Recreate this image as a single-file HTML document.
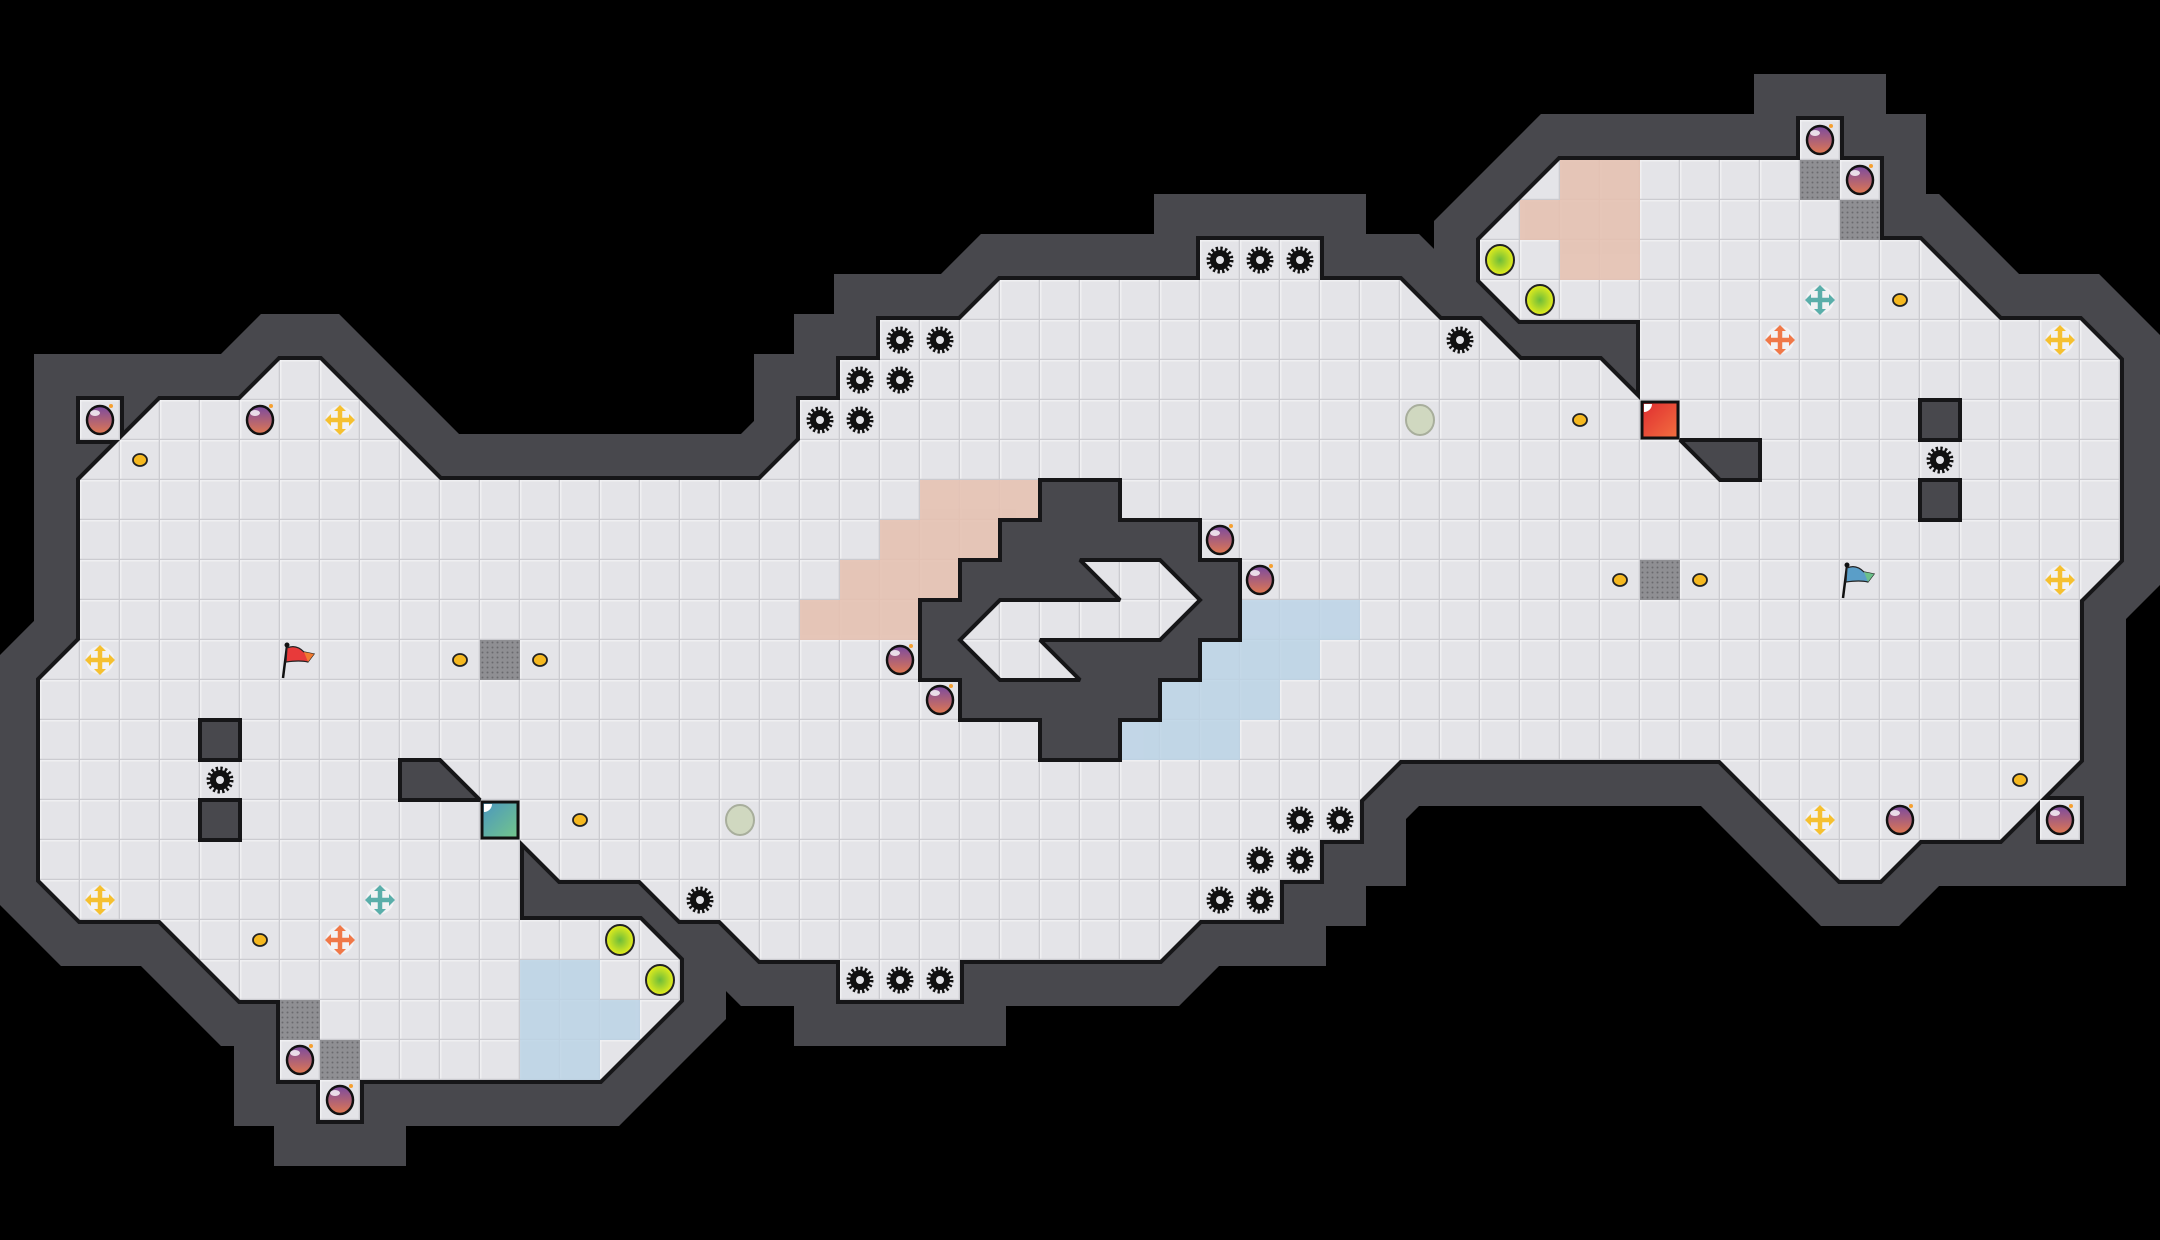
<!DOCTYPE html>
<html><head><meta charset="utf-8"><style>html,body{margin:0;padding:0;background:#000}svg{display:block}</style></head>
<body>
<svg xmlns="http://www.w3.org/2000/svg" width="2160" height="1240" viewBox="0 0 2160 1240">
<defs>
<pattern id="g" width="1" height="1" patternUnits="userSpaceOnUse">
<rect width="1" height="1" fill="#e4e4e8"/>
<path d="M0 0.02H1M0.02 0V1" stroke="#f3f3f5" stroke-width="0.03"/>
<path d="M0 0.985H1M0.985 0V1" stroke="#cbcbd0" stroke-width="0.035"/>
</pattern>
<pattern id="dots" width="5" height="5" patternUnits="userSpaceOnUse"><rect width="5" height="5" fill="#8f8f93"/><circle cx="2.5" cy="2.5" r="1" fill="#6a6a6e"/></pattern>
<linearGradient id="bombg" x1="0" y1="0" x2="0" y2="1"><stop offset="0" stop-color="#7a4aa0"/><stop offset="1" stop-color="#e07850"/></linearGradient>
<radialGradient id="yg"><stop offset="0" stop-color="#6cbc3a"/><stop offset="1" stop-color="#e6ee1c"/></radialGradient>
<linearGradient id="tealg" x1="0" y1="0" x2="1" y2="1"><stop offset="0" stop-color="#4a96c0"/><stop offset="1" stop-color="#74c68a"/></linearGradient>
<linearGradient id="redg" x1="0" y1="0" x2="1" y2="1"><stop offset="0" stop-color="#e02c30"/><stop offset="1" stop-color="#f27040"/></linearGradient>
<g id="gear"><circle r="10" fill="#111"/><circle r="11" fill="none" stroke="#111" stroke-width="5" stroke-dasharray="2.2 2.12"/><circle r="4" fill="#e4e4e8"/></g>
<g id="bomb"><ellipse rx="13" ry="14" fill="url(#bombg)" stroke="#111" stroke-width="2.5"/><ellipse cx="-5" cy="-7" rx="5" ry="3" fill="#fff" opacity="0.8"/><circle cx="11" cy="-14" r="2" fill="#f5a030"/></g>
<g id="coin"><ellipse rx="7" ry="6" fill="#f5b820" stroke="#222" stroke-width="1.8"/></g>
<g id="pale"><ellipse rx="14" ry="15" fill="#d0d8c0" stroke="#a8ae9c" stroke-width="2"/></g>
<g id="ygc"><ellipse rx="14" ry="15" fill="url(#yg)" stroke="#222" stroke-width="2"/></g>
<g id="cross"><circle r="14" fill="#fff" opacity="0.5"/><path d="M-10 0H10M0 -10V10" stroke="currentColor" stroke-width="4.5"/><path d="M-15 0L-9 -6V6ZM15 0L9 -6V6ZM0 -15L-6 -9H6ZM0 15L-6 9H6Z" fill="currentColor"/></g>
</defs>
<rect width="2160" height="1240" fill="#000"/>
<g transform="scale(40)" stroke-linejoin="miter" stroke-miterlimit="1.6">
<g fill="none" stroke="#48484d" stroke-width="2.3">
<polygon id="fl" points="2,12 3,11 4,10 6,10 7,9 8,9 11,12 19,12 20,11 20,10 21,10 21,9 22,9 22,8 24,8 25,7 30,7 30,6 33,6 33,7 35,7 36,8 37,8 38,9 40,9 41,10 41,8 38,8 37,7 37,6 39,4 45,4 45,3 46,3 46,4 47,4 47,6 48,6 50,8 52,8 53,9 53,14 52,15 52,19 50,21 48,21 47,22 46,22 43,19 35,19 34,20 34,21 33,21 33,22 32,22 32,23 30,23 29,24 24,24 24,25 21,25 21,24 19,24 18,23 17,23 16,22 14,22 13,21 13,23 16,23 17,24 17,25 15,27 9,27 9,28 8,28 8,27 7,27 7,25 6,25 4,23 2,23 1,22 1,17 2,16"/>
<rect x="2" y="10" width="1" height="1"/><rect x="51" y="20" width="1" height="1"/>
</g>
<g fill="none" stroke="#161618" stroke-width="0.2">
<use href="#fl"/>
<rect x="2" y="10" width="1" height="1"/><rect x="51" y="20" width="1" height="1"/>
</g>
<g fill="url(#g)" stroke="none">
<use href="#fl"/>
<rect x="2" y="10" width="1" height="1"/><rect x="51" y="20" width="1" height="1"/>
</g>
<g fill="#e6c2b2" opacity="0.9">
<rect x="23" y="12" width="3" height="1"/><rect x="22" y="13" width="3" height="1"/><rect x="21" y="14" width="3" height="1"/><rect x="20" y="15" width="3" height="1"/>
<rect x="39" y="4" width="2" height="1"/><rect x="38" y="5" width="3" height="1"/><rect x="39" y="6" width="2" height="1"/>
</g>
<g fill="#bcd4e6" opacity="0.85">
<rect x="31" y="15" width="3" height="1"/><rect x="30" y="16" width="3" height="1"/><rect x="29" y="17" width="3" height="1"/><rect x="28" y="18" width="3" height="1"/>
<rect x="13" y="24" width="2" height="1"/><rect x="13" y="25" width="3" height="1"/><rect x="13" y="26" width="2" height="1"/>
</g>
<g fill="#48484d" stroke="#161618" stroke-width="0.1">
<polygon points="26,12 28,12 28,13 30,13 30,14 31,14 31,16 30,16 30,17 29,17 29,18 28,18 28,19 26,19 26,18 24,18 24,17 23,17 23,15 24,15 24,14 25,14 25,13 26,13"/>
<polygon points="10,19 11,19 12,20 10,20"/>
<polygon points="42,11 44,11 44,12 43,12"/>
<rect x="5" y="18" width="1" height="1"/><rect x="5" y="20" width="1" height="1"/>
<rect x="48" y="10" width="1" height="1"/><rect x="48" y="12" width="1" height="1"/>
</g>
<polygon points="27,14 29,14 30,15 29,16 26,16 27,17 25,17 24,16 25,15 28,15" fill="url(#g)" stroke="#161618" stroke-width="0.1"/>
</g>
<g fill="url(#dots)">
<rect x="480" y="640" width="40" height="40"/><rect x="280" y="1000" width="40" height="40"/><rect x="320" y="1040" width="40" height="40"/>
<rect x="1800" y="160" width="40" height="40"/><rect x="1840" y="200" width="40" height="40"/><rect x="1640" y="560" width="40" height="40"/>
</g>
<rect x="482" y="802" width="36" height="36" fill="url(#tealg)" stroke="#111" stroke-width="3"/>
<path d="M484 804h8a8 8 0 0 1 -8 8z" fill="#fff"/>
<rect x="1642" y="402" width="36" height="36" fill="url(#redg)" stroke="#111" stroke-width="3"/>
<path d="M1644 404h8a8 8 0 0 1 -8 8z" fill="#fff"/>
<use href="#gear" transform="translate(1220,260)"/><use href="#gear" transform="translate(1260,260)"/><use href="#gear" transform="translate(1300,260)"/>
<use href="#gear" transform="translate(900,340)"/><use href="#gear" transform="translate(940,340)"/>
<use href="#gear" transform="translate(860,380)"/><use href="#gear" transform="translate(900,380)"/>
<use href="#gear" transform="translate(820,420)"/><use href="#gear" transform="translate(860,420)"/>
<use href="#gear" transform="translate(1460,340)"/><use href="#gear" transform="translate(1940,460)"/>
<use href="#gear" transform="translate(220,780)"/><use href="#gear" transform="translate(700,900)"/>
<use href="#gear" transform="translate(1300,820)"/><use href="#gear" transform="translate(1340,820)"/>
<use href="#gear" transform="translate(1260,860)"/><use href="#gear" transform="translate(1300,860)"/>
<use href="#gear" transform="translate(1220,900)"/><use href="#gear" transform="translate(1260,900)"/>
<use href="#gear" transform="translate(860,980)"/><use href="#gear" transform="translate(900,980)"/><use href="#gear" transform="translate(940,980)"/>
<use href="#bomb" transform="translate(100,420)"/><use href="#bomb" transform="translate(260,420)"/>
<use href="#bomb" transform="translate(1820,140)"/><use href="#bomb" transform="translate(1860,180)"/>
<use href="#bomb" transform="translate(1220,540)"/><use href="#bomb" transform="translate(1260,580)"/>
<use href="#bomb" transform="translate(900,660)"/><use href="#bomb" transform="translate(940,700)"/>
<use href="#bomb" transform="translate(300,1060)"/><use href="#bomb" transform="translate(340,1100)"/>
<use href="#bomb" transform="translate(2060,820)"/><use href="#bomb" transform="translate(1900,820)"/>
<use href="#coin" transform="translate(140,460)"/><use href="#coin" transform="translate(460,660)"/><use href="#coin" transform="translate(540,660)"/>
<use href="#coin" transform="translate(580,820)"/><use href="#coin" transform="translate(260,940)"/><use href="#coin" transform="translate(1580,420)"/>
<use href="#coin" transform="translate(1900,300)"/><use href="#coin" transform="translate(1620,580)"/><use href="#coin" transform="translate(1700,580)"/>
<use href="#coin" transform="translate(2020,780)"/>
<g color="#f5c030">
<use href="#cross" transform="translate(340,420)"/><use href="#cross" transform="translate(100,660)"/><use href="#cross" transform="translate(100,900)"/>
<use href="#cross" transform="translate(2060,340)"/><use href="#cross" transform="translate(2060,580)"/><use href="#cross" transform="translate(1820,820)"/>
</g>
<g color="#5aaeaa"><use href="#cross" transform="translate(380,900)"/><use href="#cross" transform="translate(1820,300)"/></g>
<g color="#f07848"><use href="#cross" transform="translate(340,940)"/><use href="#cross" transform="translate(1780,340)"/></g>
<use href="#pale" transform="translate(740,820)"/><use href="#pale" transform="translate(1420,420)"/>
<use href="#ygc" transform="translate(620,940)"/><use href="#ygc" transform="translate(660,980)"/>
<use href="#ygc" transform="translate(1500,260)"/><use href="#ygc" transform="translate(1540,300)"/>
<g transform="translate(300,660)">
<line x1="-17" y1="18" x2="-13" y2="-14" stroke="#111" stroke-width="2.5"/>
<circle cx="-13" cy="-15" r="2.5" fill="#111"/>
<path d="M-13 -12 Q-4 -16 4 -8 L14 -6 L8 2 Q0 0 -14 2Z" fill="#e83a3a" stroke="#222" stroke-width="1.2"/>
<path d="M4 -8 L14 -6 L8 2Z" fill="#f07a30"/>
</g>
<g transform="translate(1860,580)">
<line x1="-17" y1="18" x2="-13" y2="-14" stroke="#111" stroke-width="2.5"/>
<circle cx="-13" cy="-15" r="2.5" fill="#111"/>
<path d="M-13 -12 Q-4 -16 4 -8 L14 -6 L8 2 Q0 0 -14 2Z" fill="#5a9ec8" stroke="#222" stroke-width="1.2"/>
<path d="M4 -8 L14 -6 L8 2Z" fill="#6cc08a"/>
</g>
</svg>
</body></html>
